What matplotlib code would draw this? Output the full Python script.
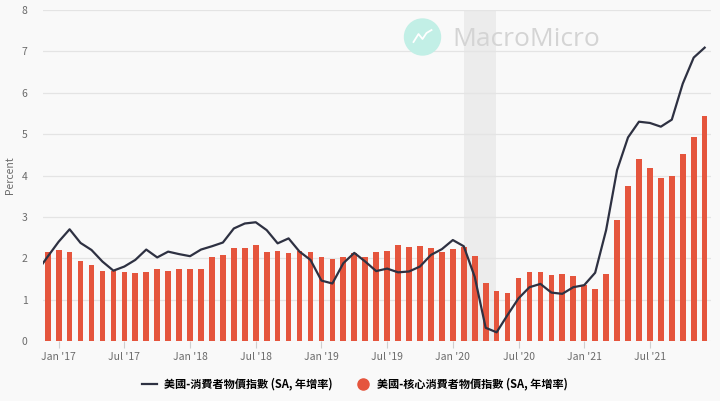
import numpy as np
import pandas as pd
import matplotlib
matplotlib.use("Agg")
import matplotlib.pyplot as plt
from matplotlib.lines import Line2D
from matplotlib.patches import Ellipse

plt.rcParams['font.family'] = ['Noto Sans CJK TC', 'DejaVu Sans']

# headline CPI yoy, Nov 2016 .. Dec 2021 (first point is clipped by the axis)
cpi = [1.67,
       2.04,
       2.40, 2.70, 2.37, 2.20, 1.92, 1.70, 1.80, 1.96, 2.21, 2.02, 2.16, 2.10,
       2.05, 2.21, 2.29, 2.38, 2.72, 2.84, 2.87, 2.68, 2.36, 2.48, 2.16, 1.96,
       1.46, 1.39, 1.88, 2.13, 1.92, 1.69, 1.75, 1.66, 1.68, 1.80, 2.08, 2.22,
       2.44, 2.29, 1.55, 0.32, 0.21, 0.63, 1.03, 1.30, 1.38, 1.17, 1.14, 1.30,
       1.35, 1.65, 2.68, 4.13, 4.92, 5.30, 5.27, 5.18, 5.35, 6.22, 6.85, 7.09]

# core CPI yoy, Dec 2016 .. Dec 2021
core = [2.16,
        2.20, 2.14, 1.94, 1.83, 1.70, 1.70, 1.66, 1.64, 1.66, 1.74, 1.70, 1.74,
        1.74, 1.74, 2.02, 2.09, 2.24, 2.24, 2.32, 2.14, 2.17, 2.12, 2.17, 2.14,
        2.02, 1.98, 2.04, 2.12, 2.04, 2.16, 2.18, 2.32, 2.26, 2.29, 2.24, 2.14,
        2.22, 2.28, 2.05, 1.39, 1.21, 1.15, 1.53, 1.66, 1.67, 1.59, 1.61, 1.57,
        1.35, 1.25, 1.61, 2.92, 3.75, 4.40, 4.19, 3.95, 3.99, 4.53, 4.92, 5.44]

cpi_months = pd.period_range("2016-11", periods=len(cpi), freq="M")
core_months = pd.period_range("2016-12", periods=len(core), freq="M")
base = pd.Period("2016-12", freq="M")
cpi_x = np.array([(m - base).n for m in cpi_months])
core_x = np.array([(m - base).n for m in core_months])

recession = ("2020-02", "2020-04")
tick_months = ["2017-01", "2017-07", "2018-01", "2018-07", "2019-01",
               "2019-07", "2020-01", "2020-07", "2021-01", "2021-07"]

label_cpi = "美國-消費者物價指數 (SA, 年增率)"
label_core = "美國-核心消費者物價指數 (SA, 年增率)"

bg = "#f9f9f9"
red = "#e5553d"
navy = "#2e3142"
grey = "#6b6b6b"

fig = plt.figure(figsize=(7.2, 4.01), dpi=100, facecolor=bg)
ax = fig.add_axes([43 / 720, 1 - 341 / 401, (711 - 43) / 720, (341 - 10) / 401])
ax.set_facecolor(bg)

r0 = (pd.Period(recession[0], freq="M") - base).n
r1 = (pd.Period(recession[1], freq="M") - base).n
ax.axvspan(r0, r1 + 0.95, color="#ececec", zorder=0, lw=0)

ax.bar(core_x, core, width=0.52, color=red, zorder=2)
ax.plot(cpi_x, cpi, color=navy, lw=1.6, zorder=3)

ax.set_xlim(-0.43, 60.58)
ax.set_ylim(0, 8)
ax.set_yticks(range(0, 9))
ax.yaxis.grid(True, color="#e4e4e4", lw=0.9, zorder=1)
for s in ax.spines.values():
    s.set_visible(False)
ax.tick_params(axis="y", length=0, pad=11, labelsize=7.5, labelcolor=grey)

ticks = [(pd.Period(t, freq="M") - base).n for t in tick_months]
ax.set_xticks(ticks)
ax.set_xticklabels([pd.Period(t, freq="M").strftime("%b '%y") for t in tick_months])
ax.tick_params(axis="x", length=5, width=0.8, color="#cfcfcf", pad=3,
               labelsize=7.5, labelcolor=grey)
ax.set_ylabel("Percent", fontsize=7.5, color=grey)
ax.yaxis.set_label_coords(-28 / 668, 0.5)

# watermark logo + name
cx, cy = 422.5 / 720, 1 - 37 / 401
fig.patches.append(Ellipse((cx, cy), 36 / 720, 36 / 401, transform=fig.transFigure,
                           color="#c2efe6", zorder=0))
zx = np.array([-9, -4, 0, 4, 9]) / 720 + cx
zy = -np.array([5, -3, 2, -4, -7]) / 401 + cy
fig.lines.append(Line2D(zx, zy, transform=fig.transFigure, color="white", lw=1.3))
fig.text(526 / 720, 1 - 40 / 401, "MacroMicro", ha="center", va="center",
         fontsize=19, color="#d4d4d4", family=["Open Sans", "DejaVu Sans"], zorder=0)

handles = [Line2D([], [], color=navy, lw=1.6),
           Line2D([], [], color=red, marker="o", ls="none", markersize=8)]
fig.legend(handles, [label_cpi, label_core], loc="center", bbox_to_anchor=(0.493, 1 - 384 / 401),
           ncol=2, frameon=False, handlelength=1.4, handletextpad=0.6,
           columnspacing=2.0, prop={"weight": "bold", "size": 8})

fig.savefig("out.png", dpi=100, facecolor=bg)
